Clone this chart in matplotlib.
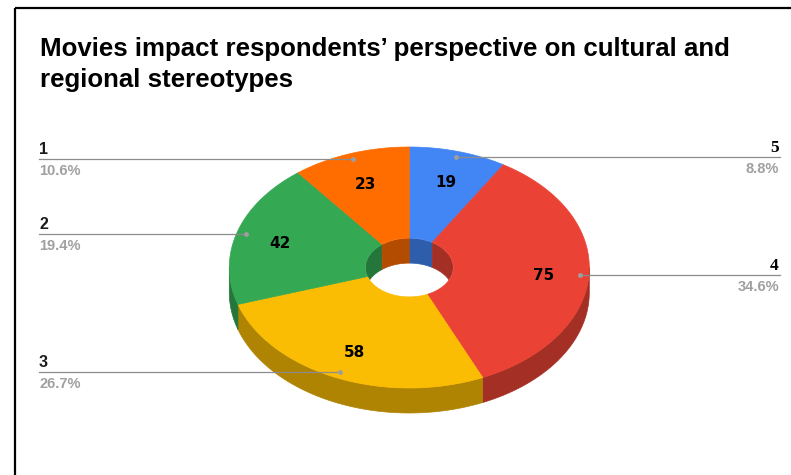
import numpy as np
import matplotlib.pyplot as plt
from matplotlib.patches import Polygon, Ellipse
from matplotlib.colors import to_rgb

plt.rcParams['font.family'] = ['Liberation Sans', 'DejaVu Sans']

# slices in clockwise order starting at 12 o'clock
categories = ['5', '4', '3', '2', '1']
values = [19, 75, 58, 42, 23]
colors = ['#4285F4', '#EA4335', '#FBBC04', '#34A853', '#FF6D01']
title_lines = ['Movies impact respondents\u2019 perspective on cultural and',
               'regional stereotypes']

# geometry of the tilted donut (pixel units, y down)
cx, cy = 409.3, 267.5
rx, ry = 180.0, 120.5
hole = 0.244
depth = 25.0


def shade(c, f=0.7):
    r, g, b = to_rgb(c)
    return (r * f, g * f, b * f)


def arc(t1, t2, scale, dy=0.0, n=80):
    t = np.radians(np.linspace(t1, t2, n))
    return np.column_stack([cx + scale * rx * np.sin(t),
                            cy - scale * ry * np.cos(t) + dy])


def clip_range(a, b, lo, hi):
    s, e = max(a, lo), min(b, hi)
    return (s, e) if e > s else None


fig = plt.figure(figsize=(7.91, 4.75), dpi=100)
ax = fig.add_axes([0, 0, 1, 1])
ax.set_xlim(0, 791)
ax.set_ylim(475, 0)
ax.axis('off')

total = sum(values)
bounds = np.concatenate([[0], np.cumsum(values)]) / total * 360

# outer side walls (front half only)
for i, c in enumerate(colors):
    r = clip_range(bounds[i], bounds[i + 1], 90, 270)
    if r:
        top = arc(r[0], r[1], 1.0)
        bot = arc(r[1], r[0], 1.0, depth)
        ax.add_patch(Polygon(np.vstack([top, bot]), fc=shade(c), ec=shade(c), lw=0.5, zorder=1))

# inner walls seen through the hole (back half)
inner_top = Ellipse((cx, cy), 2 * hole * rx, 2 * hole * ry, transform=ax.transData)
for i, c in enumerate(colors):
    for lo, hi in [(-90, 90), (270, 450)]:
        r = clip_range(bounds[i], bounds[i + 1], lo, hi)
        if r:
            top = arc(r[0], r[1], hole)
            bot = arc(r[1], r[0], hole, depth)
            p = Polygon(np.vstack([top, bot]), fc=shade(c), ec=shade(c), lw=0.5, zorder=2)
            ax.add_patch(p)
            p.set_clip_path(inner_top)

# top surface
for i, c in enumerate(colors):
    outer = arc(bounds[i], bounds[i + 1], 1.0)
    inner = arc(bounds[i + 1], bounds[i], hole)
    ax.add_patch(Polygon(np.vstack([outer, inner]), fc=c, ec=c, lw=0.5, zorder=3))

# value labels, leader lines and outside labels
for i, (cat, v) in enumerate(zip(categories, values)):
    mid = np.radians((bounds[i] + bounds[i + 1]) / 2)
    s, co = np.sin(mid), np.cos(mid)
    ax.text(cx + 0.75 * rx * s, cy - 0.75 * ry * co + 2, str(v), ha='center', va='center',
            fontsize=11, fontweight='bold', family='DejaVu Sans', color='black', zorder=5)
    dx, dy = cx + 0.95 * rx * s, cy - 0.95 * ry * co
    ax.plot([dx], [dy], 'o', ms=3.5, color='#9e9e9e', mec='none', zorder=6)
    pct = f'{v / total * 100:.1f}%'
    if s > 0:
        ax.plot([dx, 780], [dy, dy], color='#8c8c8c', lw=0.9, zorder=4)
        ax.text(779, dy - 5, cat, ha='right', va='baseline', fontsize=12.5,
                fontweight='bold', family='Liberation Serif', color='black')
        ax.text(779, dy + 16, pct, ha='right', va='baseline', fontsize=10.5,
                fontweight='bold', color='#a0a0a0')
    else:
        ax.plot([39, dx], [dy, dy], color='#8c8c8c', lw=0.9, zorder=4)
        ax.text(39, dy - 5, cat, ha='left', va='baseline', fontsize=11.5,
                fontweight='bold', color='#1a1a1a')
        ax.text(39, dy + 16, pct, ha='left', va='baseline', fontsize=10.5,
                fontweight='bold', color='#a0a0a0')

for k, line in enumerate(title_lines):
    ax.text(40, 56 + 30.7 * k, line, ha='left', va='baseline', fontsize=18.6,
            fontweight='bold', color='black')

# frame
ax.plot([15, 15], [8, 475], color='black', lw=1.6, solid_capstyle='butt')
ax.plot([15, 791], [8, 8], color='black', lw=1.6, solid_capstyle='butt')

fig.savefig('out.png', dpi=100)
